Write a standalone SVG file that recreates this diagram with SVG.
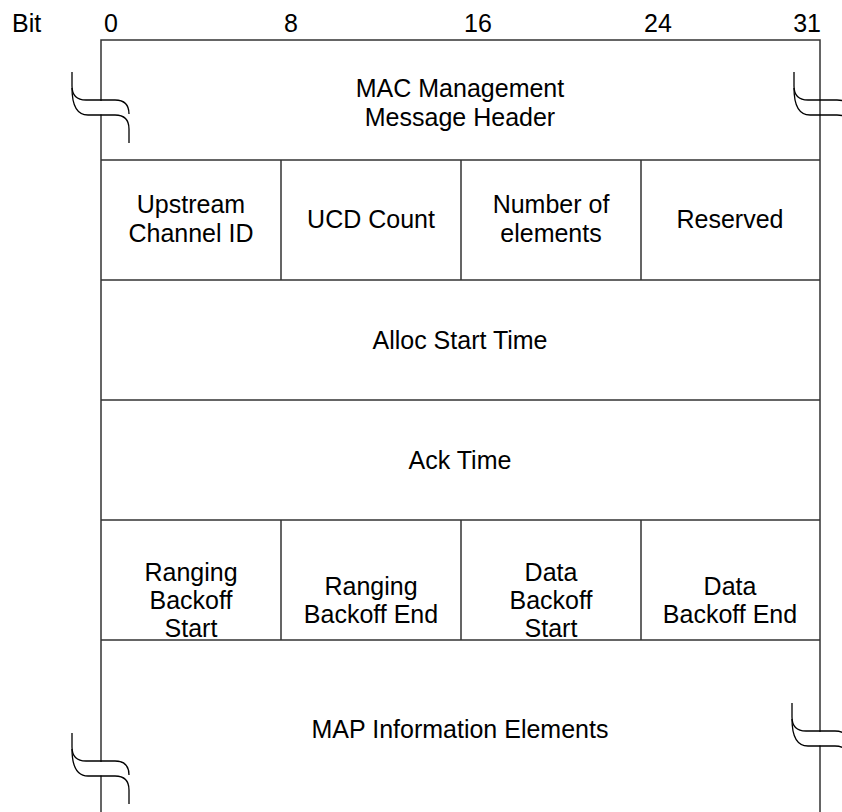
<svg xmlns="http://www.w3.org/2000/svg" xmlns:xlink="http://www.w3.org/1999/xlink" width="842" height="812" viewBox="0 0 842 812">
<style>
.ln{stroke:#333;stroke-width:1.5;fill:none}
.bk{stroke:#000;stroke-width:1.3;fill:none}
text{font-family:"Liberation Sans",Arial,sans-serif;font-size:25px;fill:#000}
.c{text-anchor:middle}
</style>
<defs>
<g id="brk">
<rect x="22" y="101" width="12" height="13.5" fill="#fff"/>
<path class="bk" d="M-5,72 V86 C-5,95 0,100 9,100 H38 C47,100 52,105 52,114"/>
<path class="bk" d="M-5,88 C-5,106 1,115 11,115 H38 C47,115 52,120 52,129 V143"/>
</g>
</defs>
<rect width="842" height="812" fill="#fff"/>
<g id="ruler">
<text x="12" y="32">Bit</text>
<text x="104" y="32">0</text>
<text x="284" y="32">8</text>
<text x="464" y="32">16</text>
<text x="644" y="32">24</text>
<text x="821" y="32" text-anchor="end">31</text>
</g>
<g id="frame">
<path class="ln" d="M101,812 V40 H820 V812"/>
<path class="ln" d="M101,160 H820 M101,280 H820 M101,400 H820 M101,520 H820 M101,640 H820"/>
<path class="ln" d="M281,160 V280 M461,160 V280 M641,160 V280 M281,520 V640 M461,520 V640 M641,520 V640"/>
</g>
<g id="breaks">
<use xlink:href="#brk" transform="translate(77,0)"/>
<use xlink:href="#brk" transform="translate(799,0)"/>
<use xlink:href="#brk" transform="translate(77,661)"/>
<use xlink:href="#brk" transform="translate(797,631)"/>
</g>
<g id="header"><text class="c" x="460" y="97">MAC Management</text><text class="c" x="460" y="126">Message Header</text></g>
<g id="upstream"><text class="c" x="191" y="213">Upstream</text><text class="c" x="191" y="242">Channel ID</text></g>
<g id="ucd"><text class="c" x="371" y="228">UCD Count</text></g>
<g id="numel"><text class="c" x="551" y="213">Number of</text><text class="c" x="551" y="242">elements</text></g>
<g id="reserved"><text class="c" x="730" y="228">Reserved</text></g>
<g id="alloc"><text class="c" x="460" y="349">Alloc Start Time</text></g>
<g id="ack"><text class="c" x="460" y="469">Ack Time</text></g>
<g id="rbs"><text class="c" x="191" y="581">Ranging</text><text class="c" x="191" y="609">Backoff</text><text class="c" x="191" y="637">Start</text></g>
<g id="rbe"><text class="c" x="371" y="595">Ranging</text><text class="c" x="371" y="623">Backoff End</text></g>
<g id="dbs"><text class="c" x="551" y="581">Data</text><text class="c" x="551" y="609">Backoff</text><text class="c" x="551" y="637">Start</text></g>
<g id="dbe"><text class="c" x="730" y="595">Data</text><text class="c" x="730" y="623">Backoff End</text></g>
<g id="map"><text class="c" x="460" y="738">MAP Information Elements</text></g>
</svg>
